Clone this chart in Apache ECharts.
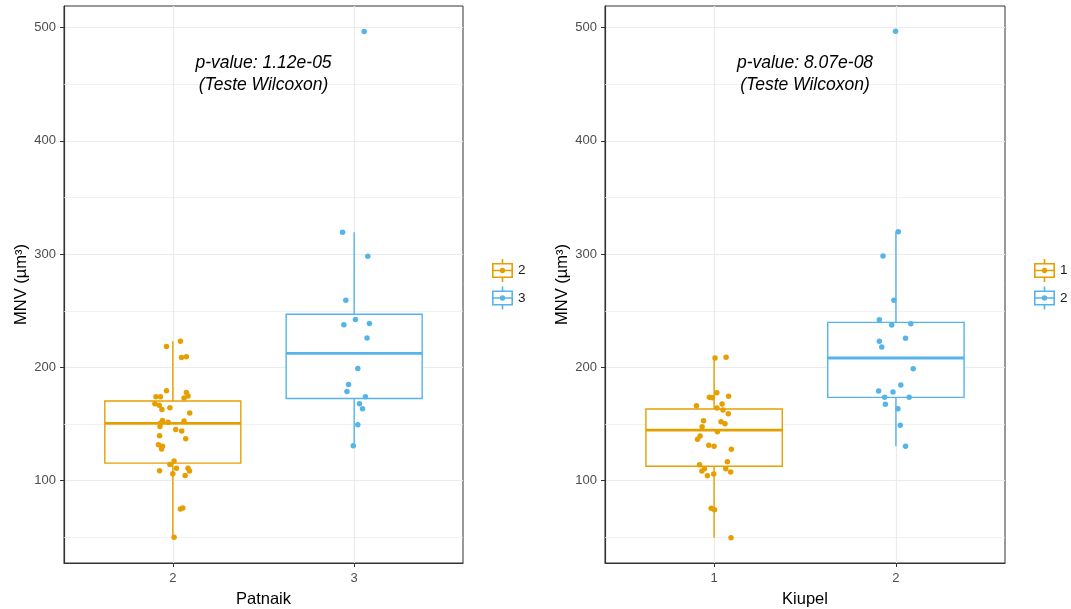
<!DOCTYPE html>
<html>
<head>
<meta charset="utf-8">
<script src="https://cdn.jsdelivr.net/npm/echarts@6/dist/echarts.min.js"></script>
<style>
html,body{margin:0;padding:0;background:#fff;}
#chart{width:1071px;height:609px;}
</style>
</head>
<body>
<div id="chart"></div>
<script>
// ---------- data ----------
const patnaikCategories = ['2', '3'];
const kiupelCategories = ['1', '2'];
const yTicks = [100, 200, 300, 400, 500];
const yMinorTicks = [50, 150, 250, 350, 450];
const pValues = ['1.12e-05', '8.07e-08'];
const testName = '(Teste Wilcoxon)';
const yTitle = 'MNV (µm³)';

// box stats: [lower whisker, Q1, median, Q3, upper whisker]
const patnaikBoxes = [
  [50, 115.5, 150.6, 170.3, 223.2],
  [130.9, 172.6, 212.4, 247, 319.4]
];
const kiupelBoxes = [
  [49.7, 112.7, 144.7, 163.3, 208.6],
  [130.5, 173.6, 208.3, 239.8, 319.8]
];

// jittered points: [horizontal jitter, value]
const patnaik2Points = [
  [-0.035,218.5],[0.042,223.2],[0.048,208.8],[0.075,209.4],[-0.035,179.4],[-0.093,174.1],
  [-0.068,174.1],[0.075,177.9],[0.084,174.7],[0.062,172.9],[-0.099,168],[-0.075,166.5],
  [-0.060,162.9],[-0.016,164.4],[0.093,159.7],[-0.057,153.2],[-0.068,150.8],[-0.026,151.7],
  [0.062,152.6],[-0.071,147.9],[0.016,145.3],[0.049,143.8],[-0.073,139.7],[0.071,137.1],
  [-0.079,131.8],[-0.057,130.5],[-0.062,127.9],[0.007,117.3],[-0.016,114.4],[0.020,111.1],
  [0.084,110.9],[0.092,108.5],[-0.073,108.8],[0.0,106.2],[0.068,104.7],[0.042,75],
  [0.055,75.8],[0.007,50]
];
const patnaik3Points = [
  [0.055,496.6],[-0.064,319.4],[0.075,298.2],[-0.046,259.4],[0.007,242.4],[-0.057,237.7],
  [0.084,238.8],[0.071,225.9],[0.020,199.1],[-0.031,185],[-0.040,178.8],[0.062,174.1],
  [0.029,168],[0.046,163.5],[0.020,149.4],[-0.005,130.9]
];
const kiupel1Points = [
  [0.005,208.3],[0.066,209],[0.015,177.7],[-0.026,173.6],[-0.009,173.3],[0.080,174.5],
  [-0.097,166.2],[0.044,167.7],[0.016,164.2],[0.049,162.4],[0.078,159.1],[-0.058,153],
  [0.038,152.1],[0.060,150.3],[-0.066,147.7],[0.018,143.3],[-0.077,139.5],[-0.091,136.6],
  [-0.029,131.2],[0.0,130.4],[0.095,127.7],[0.073,116.8],[-0.080,114.1],[-0.053,110.6],
  [-0.067,108.6],[0.064,110.6],[0.091,107.7],[-0.037,104.4],[-0.002,105.9],[-0.016,75.6],
  [0.002,74.4],[0.093,49.7]
];
const kiupel2Points = [
  [-0.002,496.7],[0.013,319.8],[-0.071,298.4],[-0.011,259.2],[-0.091,242.1],[-0.023,237.4],
  [0.082,238.6],[0.053,225.7],[-0.091,223],[-0.078,218],[0.095,198.9],[0.027,184.5],
  [-0.095,179.2],[-0.016,178.3],[-0.062,173.6],[0.073,173.6],[-0.058,167.4],[0.011,163.5],
  [0.024,148.9],[0.053,130.4]
];

// ---------- styling ----------
const FONT = '"Liberation Sans", Arial, Helvetica, sans-serif';
const ORANGE = '#E69F00';
const BLUE = '#56B4E9';
const GRID_COL = '#ebebeb';
const Y_MIN = 27.35, Y_MAX = 519.05;

const legendIcon = 'path://M0,4H21V19H0Z M1.6,5.6V17.4H19.4V5.6Z M1.6,10.7H19.4V12.3H1.6Z ' +
  'M13.2,11.5A2.7,2.7 0 1,1 7.8,11.5A2.7,2.7 0 1,1 13.2,11.5Z M9.7,0H11.3V4.8H9.7Z M9.7,18.2H11.3V23H9.7Z';

const panels = [
  { axisTitle: 'Patnaik', cats: patnaikCategories, boxes: patnaikBoxes,
    points: [patnaik2Points, patnaik3Points], p: pValues[0],
    grid: { left: 64, right: 608, top: 6, bottom: 46 }, legendLeft: 492 },
  { axisTitle: 'Kiupel', cats: kiupelCategories, boxes: kiupelBoxes,
    points: [kiupel1Points, kiupel2Points], p: pValues[1],
    grid: { left: 605, right: 66, top: 6, bottom: 46 }, legendLeft: 1034 }
];
const colors = [ORANGE, BLUE];

const grids = [], xAxes = [], yAxes = [], series = [], legends = [];

panels.forEach((pn, pi) => {
  grids.push(Object.assign({ show: true, borderColor: '#333', borderWidth: 1, backgroundColor: '#fff',
    containLabel: false, outerBoundsMode: 'none' }, pn.grid));
  xAxes.push({
    gridIndex: pi, type: 'value', min: 0.4, max: 2.6,
    name: pn.axisTitle, nameLocation: 'middle', nameGap: 28,
    nameTextStyle: { fontFamily: FONT, fontSize: 16.5, color: '#000' },
    axisLine: { show: true, onZero: false, lineStyle: { color: '#333', width: 1.2 } },
    axisTick: { show: true, length: 4, customValues: [1, 2], lineStyle: { color: '#333', width: 1 } },
    axisLabel: { show: true, customValues: [1, 2], margin: 9, fontFamily: FONT, fontSize: 13, color: '#4d4d4d',
      formatter: v => pn.cats[Math.round(v) - 1] },
    splitLine: { show: false }
  });
  yAxes.push({
    gridIndex: pi, type: 'value', min: Y_MIN, max: Y_MAX,
    name: yTitle, nameLocation: 'middle', nameGap: 33, nameRotate: 90,
    nameTextStyle: { fontFamily: FONT, fontSize: 16.5, color: '#000' },
    axisLine: { show: true, onZero: false, lineStyle: { color: '#333', width: 1.2 } },
    axisTick: { show: true, length: 4, customValues: yTicks, lineStyle: { color: '#333', width: 1 } },
    axisLabel: { show: true, customValues: yTicks, margin: 8, fontFamily: FONT, fontSize: 13, color: '#4d4d4d' },
    splitLine: { show: true, lineStyle: { color: GRID_COL, width: 1.2 } }
  });

  const names = pn.cats.map(c => pn.axisTitle + ' ' + c);

  // grid lines (minor y + major x) drawn through the axes scales
  series.push({
    type: 'scatter', xAxisIndex: pi, yAxisIndex: pi, data: [], silent: true,
    markLine: {
      silent: true, z: 1, animation: false, symbol: ['none', 'none'], label: { show: false },
      emphasis: { disabled: true },
      data: yMinorTicks.map(v => ({ yAxis: v, lineStyle: { color: GRID_COL, width: 0.7, type: 'solid' } }))
        .concat([1, 2].map(v => ({ xAxis: v, lineStyle: { color: GRID_COL, width: 1.2, type: 'solid' } })))
    }
  });

  // boxes
  pn.boxes.forEach((b, bi) => {
    const col = colors[bi];
    series.push({
      type: 'custom', name: names[bi], xAxisIndex: pi, yAxisIndex: pi, z: 2,
      itemStyle: { color: col },
      encode: { x: 0, y: [1, 2, 3, 4, 5] },
      data: [[bi + 1].concat(b)],
      renderItem: (params, api) => {
        const x = api.value(0);
        const w = api.size([0.75, 0])[0];
        const pLow = api.coord([x, api.value(1)]);
        const pQ1 = api.coord([x, api.value(2)]);
        const pMed = api.coord([x, api.value(3)]);
        const pQ3 = api.coord([x, api.value(4)]);
        const pHigh = api.coord([x, api.value(5)]);
        const cx = pMed[0];
        return {
          type: 'group',
          children: [
            { type: 'line', shape: { x1: cx, y1: pHigh[1], x2: cx, y2: pQ3[1] }, style: { stroke: col, lineWidth: 1.4 } },
            { type: 'line', shape: { x1: cx, y1: pQ1[1], x2: cx, y2: pLow[1] }, style: { stroke: col, lineWidth: 1.4 } },
            { type: 'rect', shape: { x: cx - w / 2, y: pQ3[1], width: w, height: pQ1[1] - pQ3[1] },
              style: { fill: '#fff', stroke: col, lineWidth: 1.4 } },
            { type: 'line', shape: { x1: cx - w / 2, y1: pMed[1], x2: cx + w / 2, y2: pMed[1] }, style: { stroke: col, lineWidth: 2.8 } }
          ]
        };
      }
    });
  });

  // jittered points
  pn.points.forEach((pts, gi) => {
    series.push({
      type: 'scatter', name: names[gi], xAxisIndex: pi, yAxisIndex: pi, z: 3,
      symbol: 'circle', symbolSize: 5.5,
      itemStyle: { color: colors[gi], opacity: 1 },
      data: pts.map(p => [gi + 1 + p[0], p[1]])
    });
  });

  // annotation
  series.push({
    type: 'custom', xAxisIndex: pi, yAxisIndex: pi, z: 4, silent: true,
    data: [[1.5, 458.6]],
    renderItem: (params, api) => {
      const c = api.coord([api.value(0), api.value(1)]);
      return {
        type: 'text', x: c[0], y: c[1],
        style: { text: 'p-value: ' + pn.p + '\n' + testName, fontFamily: FONT, fontSize: 17.5, fontStyle: 'italic',
          fill: '#000', align: 'center', verticalAlign: 'middle', lineHeight: 22 }
      };
    }
  });

  legends.push({
    orient: 'vertical', left: pn.legendLeft, top: 259, padding: 0, itemWidth: 21, itemHeight: 23, itemGap: 4.5,
    selectedMode: false,
    textStyle: { fontFamily: FONT, fontSize: 13.5, color: '#1a1a1a' },
    formatter: name => name.split(' ')[1],
    data: names.map((n, i) => ({ name: n, icon: legendIcon, itemStyle: { color: colors[i], borderWidth: 0 } }))
  });
});

const chart = echarts.init(document.getElementById('chart'), null, { renderer: 'canvas' });
chart.setOption({
  animation: false,
  backgroundColor: '#fff',
  tooltip: { show: false },
  grid: grids,
  xAxis: xAxes,
  yAxis: yAxes,
  legend: legends,
  series: series
});
</script>
</body>
</html>
